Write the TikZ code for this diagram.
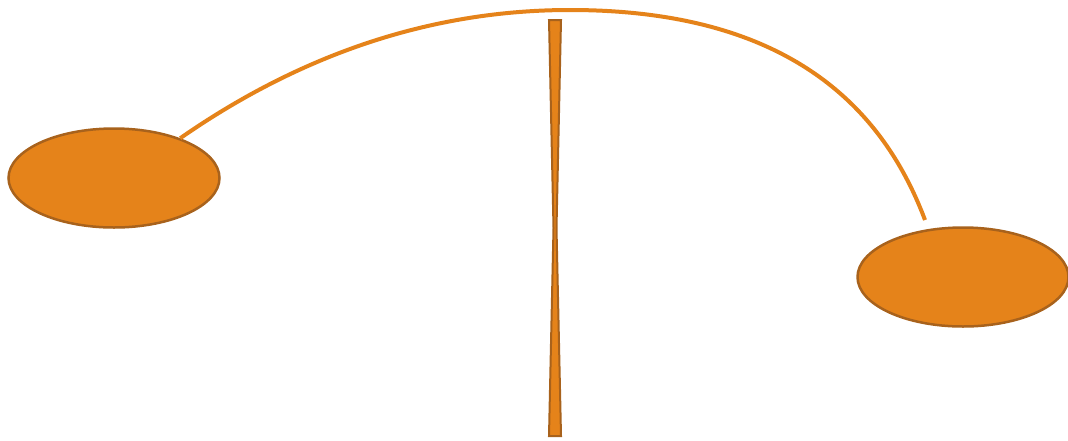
\documentclass[tikz,border=0pt]{standalone}
\usepackage{xcolor}
\usetikzlibrary{shapes.geometric}
\definecolor{jingga}{HTML}{E5831A}
\definecolor{coklat}{HTML}{A8621C}

\begin{document}
\begin{tikzpicture}[
    x=1pt, y=-1pt,
    bola/.style={draw=coklat, fill=jingga, ellipse, line width=2.5pt,
                 minimum width=211pt, minimum height=99pt, inner sep=0pt},
    busur/.style={draw=jingga, line width=4pt},
    tiang/.style={draw=coklat, fill=jingga, line width=2pt, line join=miter}
  ]
    \useasboundingbox (0,0) rectangle (1068,440);

    \node[bola] (kiri) at (114,178) {};
    \node[bola] (kanan) at (963,277) {};
    \coordinate (ujung) at (925,220);

    % tiang tengah
    \draw[tiang] (549,20) -- (561,20) -- (556.5,228) -- (561,436)
                 -- (549,436) -- (553.5,228) -- cycle;

    \draw[busur] (kiri.31) .. controls (300,55) and (430,10) .. (570,10)
                 .. controls (780,10) and (880,100) .. (ujung);
  \end{tikzpicture}
\end{document}
